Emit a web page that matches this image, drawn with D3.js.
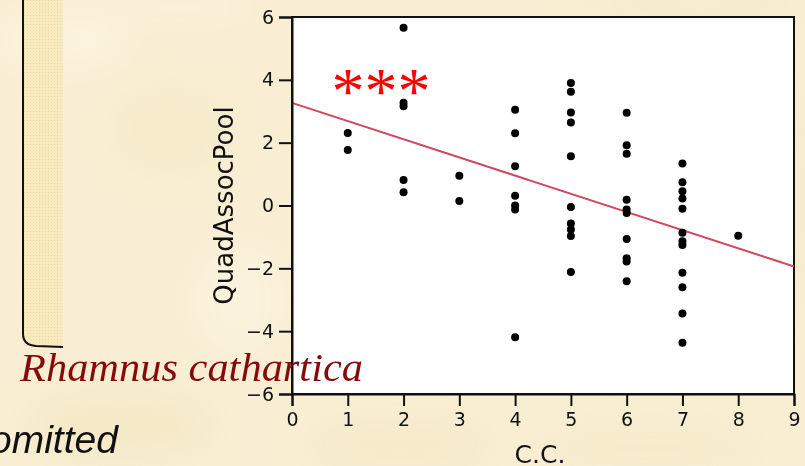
<!DOCTYPE html>
<html>
<head>
<meta charset="utf-8">
<script src="https://cdn.jsdelivr.net/npm/d3@7"></script>
<style>
  html, body { margin: 0; padding: 0; background: #f8ecce; }
  svg { display: block; }
</style>
</head>
<body>
<svg id="chart" width="805" height="466"></svg>
<script>
// C.C. score of each sampled quadrat and its association value
const ccValues = [
  1, 1,
  2, 2, 2, 2, 2,
  3, 3,
  4, 4, 4, 4, 4, 4, 4,
  5, 5, 5, 5, 5, 5, 5, 5, 5, 5,
  6, 6, 6, 6, 6, 6, 6, 6, 6, 6,
  7, 7, 7, 7, 7, 7, 7, 7, 7, 7, 7, 7,
  8
];
const quadAssocPool = [
  2.31, 1.77,
  5.66, 3.27, 3.16, 0.81, 0.42,
  0.95, 0.14,
  3.05, 2.30, 1.25, 0.31, 0.00, -0.13, -4.19,
  3.90, 3.62, 2.96, 2.64, 1.57, -0.05, -0.57, -0.76, -0.97, -2.12,
  2.95, 1.92, 1.65, 0.18, -0.13, -0.24, -1.07, -1.68, -1.78, -2.41,
  1.34, 0.74, 0.45, 0.22, -0.10, -0.87, -1.14, -1.26, -2.14, -2.60, -3.44, -4.37,
  -0.96
];
const xTicks = [0, 1, 2, 3, 4, 5, 6, 7, 8, 9];
const yTicks = [-6, -4, -2, 0, 2, 4, 6];
const xDomain = [0, 9];
const yDomain = [-6, 6];

const svg = d3.select("#chart");

// parchment backdrop
const defs = svg.append("defs");
const blur = defs.append("filter").attr("id", "soft").attr("x", "-50%").attr("y", "-50%")
  .attr("width", "200%").attr("height", "200%");
blur.append("feGaussianBlur").attr("stdDeviation", 16);
const dots = defs.append("pattern").attr("id", "stipple").attr("width", 3).attr("height", 3)
  .attr("patternUnits", "userSpaceOnUse");
dots.append("rect").attr("width", 3).attr("height", 3).attr("fill", "#f8eac0");
dots.append("rect").attr("width", 1).attr("height", 1).attr("fill", "#efda9c");

svg.append("rect").attr("width", 805).attr("height", 466).attr("fill", "#f9eed3");
const mottles = [
  [60, 40, 70, 30, "#fcf5e3"], [170, 130, 50, 35, "#f6e8c6"], [120, 425, 90, 28, "#f4e5c0"],
  [240, 300, 50, 60, "#fbf3df"], [400, 445, 90, 18, "#f5e6c2"], [650, 448, 110, 20, "#f6e9c8"],
  [700, 6, 120, 9, "#f6e8c6"], [180, 8, 80, 9, "#fcf5e2"], [798, 200, 8, 120, "#f6e8c6"]
];
svg.append("g").attr("filter", "url(#soft)")
  .selectAll("ellipse").data(mottles).join("ellipse")
  .attr("cx", d => d[0]).attr("cy", d => d[1]).attr("rx", d => d[2]).attr("ry", d => d[3])
  .attr("fill", d => d[4]).attr("opacity", 0.7);

// side panel strip and its bracket edge
svg.append("rect").attr("x", 24).attr("y", 0).attr("width", 39).attr("height", 346)
  .attr("fill", "url(#stipple)");
svg.append("path")
  .attr("d", "M23,0 L23,334 Q23,345 36,346 L63,347")
  .attr("fill", "none").attr("stroke", "#111").attr("stroke-width", 2);

// plot geometry
const plotLeft = 292, plotRight = 794, plotTop = 17, plotBottom = 394;
const x = d3.scaleLinear().domain(xDomain).range([plotLeft, plotRight]);
const y = d3.scaleLinear().domain(yDomain).range([plotBottom, plotTop]);

svg.append("rect").attr("x", plotLeft).attr("y", plotTop)
  .attr("width", plotRight - plotLeft).attr("height", plotBottom - plotTop)
  .attr("fill", "#ffffff").attr("stroke", "#111").attr("stroke-width", 2);

// least-squares fit across all quadrats
const n = ccValues.length;
const mx = d3.mean(ccValues), my = d3.mean(quadAssocPool);
let sxy = 0, sxx = 0;
for (let i = 0; i < n; i++) {
  sxy += (ccValues[i] - mx) * (quadAssocPool[i] - my);
  sxx += (ccValues[i] - mx) ** 2;
}
const slope = sxy / sxx, intercept = my - slope * mx;

svg.append("line")
  .attr("x1", x(xDomain[0])).attr("y1", y(intercept + slope * xDomain[0]))
  .attr("x2", x(xDomain[1])).attr("y2", y(intercept + slope * xDomain[1]))
  .attr("stroke", "#d3475d").attr("stroke-width", 2);

svg.append("g").selectAll("circle")
  .data(d3.range(n)).join("circle")
  .attr("cx", i => x(ccValues[i])).attr("cy", i => y(quadAssocPool[i]))
  .attr("r", 4).attr("fill", "#000");

// axes
const tickFont = "DejaVu Sans, Verdana, sans-serif";
const xAxis = svg.append("g").attr("transform", `translate(0,${plotBottom})`)
  .call(d3.axisBottom(x).tickValues(xTicks).tickSize(12).tickPadding(7).tickFormat(d3.format("d")));
const yAxis = svg.append("g").attr("transform", `translate(${plotLeft},0)`)
  .call(d3.axisLeft(y).tickValues(yTicks).tickSize(13).tickPadding(5).tickFormat(d3.format("d")));
[xAxis, yAxis].forEach(g => {
  g.select(".domain").attr("stroke", "#111").attr("stroke-width", 2);
  g.selectAll(".tick line").attr("stroke", "#111").attr("stroke-width", 2);
  g.selectAll(".tick text").attr("fill", "#111")
    .style("font-family", tickFont).style("font-size", "19px");
});

svg.append("text")
  .attr("x", (plotLeft + plotRight) / 2 - 3).attr("y", 463)
  .attr("text-anchor", "middle")
  .style("font-family", tickFont).style("font-size", "25px").attr("fill", "#111")
  .text("C.C.");

svg.append("text")
  .attr("transform", `translate(233,${(plotTop + plotBottom) / 2}) rotate(-90)`)
  .attr("text-anchor", "middle")
  .style("font-family", tickFont).style("font-size", "26px").attr("fill", "#111")
  .text("QuadAssocPool");

// significance marker
svg.append("text")
  .attr("x", 381).attr("y", 113)
  .attr("text-anchor", "middle")
  .style("font-family", "Liberation Serif, Times New Roman, serif").style("font-size", "66px")
  .attr("fill", "#ff0000")
  .text("***");

// species caption and side note
svg.append("text")
  .attr("x", 20).attr("y", 381)
  .attr("textLength", 343).attr("lengthAdjust", "spacingAndGlyphs")
  .style("font-family", "Liberation Serif, Times New Roman, serif")
  .style("font-style", "italic").style("font-size", "39px")
  .attr("fill", "#850a0a")
  .text("Rhamnus cathartica");

svg.append("text")
  .attr("x", -10).attr("y", 453)
  .style("font-family", "Liberation Sans, Arial, sans-serif")
  .style("font-style", "italic").style("font-size", "39px")
  .attr("fill", "#111")
  .text("omitted");
</script>
</body>
</html>
